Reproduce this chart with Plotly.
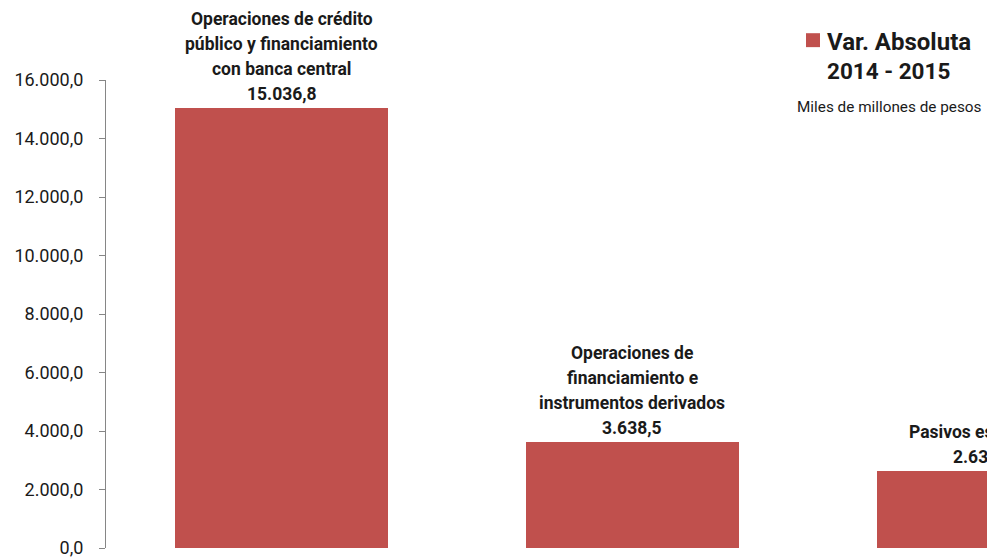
import plotly.graph_objects as go

# ---- data ----
categories = [
    "Operaciones de crédito<br>público y financiamiento<br>con banca central",
    "Operaciones de<br>financiamiento e<br>instrumentos derivados",
    "Pasivos estimados",
]
values = [15036.8, 3638.5, 2634.5]
value_labels = ["15.036,8", "3.638,5", "2.634,5"]
y_ticks = [0, 2000, 4000, 6000, 8000, 10000, 12000, 14000, 16000]
series_name = ["Var. Absoluta", "2014 - 2015"]
units_note = "Miles de millones de pesos"

BAR_COLOR = "#C0504D"
TEXT_COLOR = "#1a1a1a"
AXIS_COLOR = "#868686"
FONT = "Roboto, 'Noto Sans', Arial, sans-serif"

W, H = 987, 558
L, R, T, B = 106, 0, 80, 8
pw, ph = W - L - R, H - T - B


def px_x(x):
    return (x - L) / pw


def px_y(y):
    return (H - B - y) / ph


fig = go.Figure()
fig.add_trace(go.Bar(
    x=list(range(len(categories))),
    y=values,
    width=0.607,
    marker=dict(color=BAR_COLOR, line=dict(width=0)),
    showlegend=False,
    hoverinfo="skip",
))

# bar labels: one annotation per text line so line spacing matches
annotations = []
LINE_GAP = 25
for i, (cat, v, vl) in enumerate(zip(categories, values, value_labels)):
    lines = cat.split("<br>") + [vl]
    n = len(lines)
    for j, line in enumerate(lines):
        annotations.append(dict(
            x=i, y=v, xref="x", yref="y",
            text="<b>" + line + "</b>",
            showarrow=False,
            xanchor="center", yanchor="middle",
            yshift=14 + (n - 1 - j) * LINE_GAP,
            font=dict(family=FONT, size=17.5, color=TEXT_COLOR),
        ))

# legend-like block
annotations.append(dict(
    x=px_x(825), y=px_y(42), xref="paper", yref="paper",
    text="<b>" + series_name[0] + "</b>",
    showarrow=False, xanchor="left", yanchor="middle",
    font=dict(family=FONT, size=24, color=TEXT_COLOR),
))
annotations.append(dict(
    x=px_x(825), y=px_y(71), xref="paper", yref="paper",
    text="<b>" + series_name[1] + "</b>",
    showarrow=False, xanchor="left", yanchor="middle",
    font=dict(family=FONT, size=22.5, color=TEXT_COLOR),
))
annotations.append(dict(
    x=px_x(984), y=px_y(107), xref="paper", yref="paper", text=units_note,
    showarrow=False, xanchor="right", yanchor="middle",
    font=dict(family=FONT, size=15.3, color=TEXT_COLOR),
))

fig.update_layout(
    width=W, height=H,
    margin=dict(l=L, r=R, t=T, b=B, pad=0),
    paper_bgcolor="white", plot_bgcolor="white",
    separators=",.",
    bargap=0,
    font=dict(family=FONT, color=TEXT_COLOR),
    annotations=annotations,
    shapes=[dict(
        type="rect", xref="paper", yref="paper",
        x0=px_x(806), x1=px_x(820), y0=px_y(47), y1=px_y(33),
        fillcolor=BAR_COLOR, line=dict(width=0),
    )],
    xaxis=dict(
        range=[-0.5, 2.01], showticklabels=False, showgrid=False,
        zeroline=False, showline=False, ticks="", fixedrange=True,
    ),
    yaxis=dict(
        range=[0, 16000], tickvals=y_ticks, tickformat=",.1f",
        showgrid=False, zeroline=False,
        showline=True, linecolor=AXIS_COLOR, linewidth=1,
        ticks="outside", ticklen=6, tickcolor=AXIS_COLOR, tickwidth=1,
        ticklabelstandoff=12, ticklabeloverflow="allow",
        tickfont=dict(family=FONT, size=18, color=TEXT_COLOR),
    ),
)

fig.write_html(
    "out.html",
    config={"displayModeBar": False},
    post_script="document.body.style.margin='0';document.body.style.overflow='hidden';",
)
